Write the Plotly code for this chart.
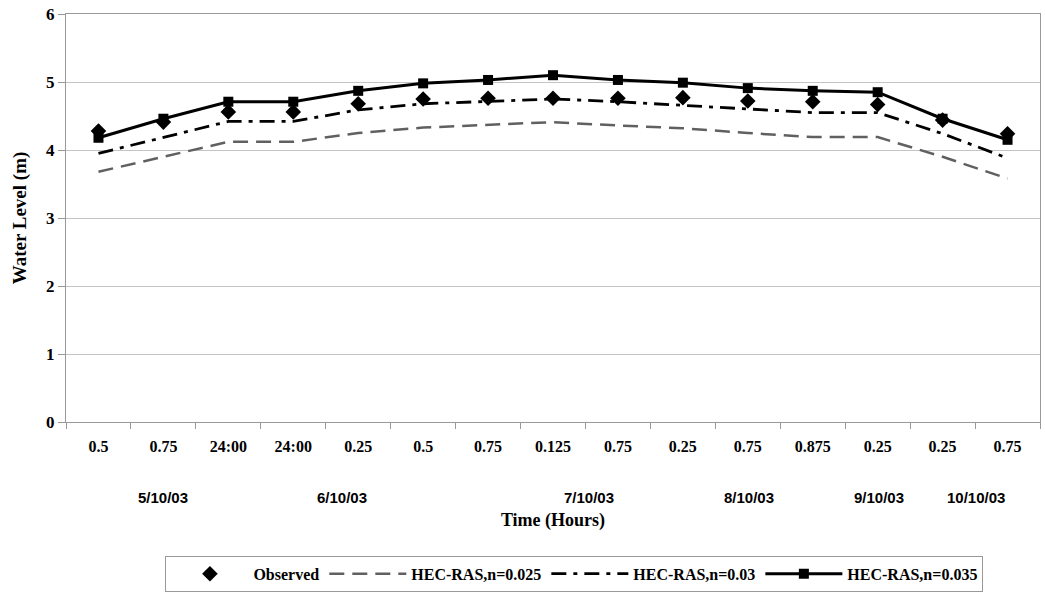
import plotly.graph_objects as go

time_labels = ["0.5", "0.75", "24:00", "24:00", "0.25", "0.5", "0.75", "0.125",
               "0.75", "0.25", "0.75", "0.875", "0.25", "0.25", "0.75"]
date_labels = ["5/10/03", "6/10/03", "7/10/03", "8/10/03", "9/10/03", "10/10/03"]
date_pos = [1, 3.75, 7.55, 10.02, 12.02, 13.52]

observed = [4.28, 4.41, 4.56, 4.56, 4.68, 4.75, 4.76, 4.76, 4.76, 4.77, 4.72, 4.71, 4.67, 4.44, 4.24]
n025 = [3.68, 3.90, 4.12, 4.12, 4.25, 4.33, 4.37, 4.41, 4.36, 4.32, 4.25, 4.19, 4.19, 3.90, 3.58]
n030 = [3.95, 4.18, 4.42, 4.42, 4.59, 4.68, 4.71, 4.75, 4.71, 4.66, 4.60, 4.55, 4.55, 4.24, 3.88]
n035 = [4.18, 4.46, 4.71, 4.71, 4.87, 4.98, 5.03, 5.10, 5.03, 4.99, 4.91, 4.87, 4.85, 4.46, 4.15]

x = list(range(len(time_labels)))
SERIF = "Liberation Serif"
SANS = "Liberation Sans"

fig = go.Figure()
fig.add_trace(go.Scatter(x=x, y=observed, mode="markers", name="Observed",
                         marker=dict(symbol="diamond", size=12, color="black")))
fig.add_trace(go.Scatter(x=x, y=n025, mode="lines", name="HEC-RAS,n=0.025",
                         line=dict(color="#606060", width=2.5, dash="15px,8px")))
fig.add_trace(go.Scatter(x=x, y=n030, mode="lines", name="HEC-RAS,n=0.03",
                         line=dict(color="black", width=2.8, dash="15px,7px,4px,7px")))
fig.add_trace(go.Scatter(x=x, y=n035, mode="lines+markers", name="HEC-RAS,n=0.035",
                         line=dict(color="black", width=3),
                         marker=dict(symbol="square", size=10, color="black")))

for lab, pos in zip(date_labels, date_pos):
    fig.add_annotation(x=pos, y=-0.184, xref="x", yref="paper", text="<b>%s</b>" % lab, showarrow=False,
                       font=dict(family=SANS, size=15, color="black"), xanchor="center", yanchor="middle")

fig.update_layout(
    width=1045, height=593,
    margin=dict(l=66, r=5, t=14, b=171, autoexpand=False),
    paper_bgcolor="white", plot_bgcolor="white",
    font=dict(family=SERIF, size=16, color="black"),
    showlegend=True,
    legend=dict(orientation="h", x=0.522, xanchor="center", y=-0.328, yanchor="top",
                bordercolor="#999999", borderwidth=1, bgcolor="white",
                font=dict(family=SERIF, size=16, color="black", weight="bold"),
                itemwidth=77, tracegroupgap=0),
)
fig.update_xaxes(
    range=[-0.5, 14.5], tickvals=x, ticktext=["<b>%s</b>" % t for t in time_labels],
    ticks="", ticklabelstandoff=10, automargin=False,
    minor=dict(tickvals=[i - 0.5 for i in range(16)], ticks="outside", ticklen=6, tickcolor="#999999"),
    showgrid=False, zeroline=False,
    showline=True, linecolor="#999999", linewidth=1, mirror=True,
    title=dict(text="<b>Time (Hours)</b>", font=dict(family=SERIF, size=18), standoff=59),
    tickfont=dict(family=SERIF, size=16),
)
fig.update_yaxes(
    range=[0, 6], tickvals=[0, 1, 2, 3, 4, 5, 6], ticktext=["<b>%d</b>" % v for v in range(7)],
    ticks="outside", ticklen=7, tickcolor="#999999", ticklabelstandoff=0, automargin=False,
    ticklabeloverflow="allow",
    showgrid=True, gridcolor="#c4c4c4", gridwidth=1, zeroline=False,
    showline=True, linecolor="#999999", linewidth=1, mirror=True,
    title=dict(text="<b>Water Level (m)</b>", font=dict(family=SERIF, size=19), standoff=14),
    tickfont=dict(family=SERIF, size=17),
)

fig.write_html("out.html", config={"displayModeBar": False},
               post_script="document.body.style.margin='0';")
